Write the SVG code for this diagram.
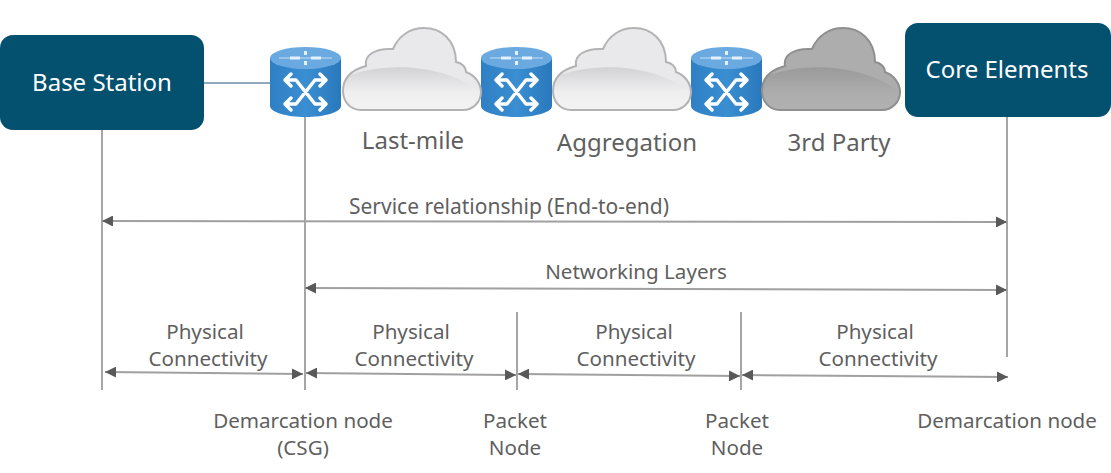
<svg xmlns="http://www.w3.org/2000/svg" width="1111" height="473" viewBox="0 0 1111 473">
<style>
.lbl{font-family:"Noto Sans","Open Sans","Liberation Sans",sans-serif;font-size:20.6px;fill:#5f5f5f;text-anchor:middle}
.big{font-size:24px}
.box{fill:#03506f}
.boxt{font-family:"Noto Sans","Open Sans","Liberation Sans",sans-serif;font-size:24px;fill:#fff;text-anchor:middle}
.ln{stroke:#a6a6a6;stroke-width:2;fill:none}
.ar{stroke:#a0a0a0;stroke-width:2;fill:none;marker-start:url(#h);marker-end:url(#h)}
.x{stroke:#fff;stroke-width:3.500;fill:none;stroke-linecap:round;stroke-linejoin:round}
</style>
<defs>
<marker id="h" viewBox="0 0 10 10" refX="10" refY="5" markerWidth="5.500" markerHeight="5.500" orient="auto-start-reverse"><path d="M0 0L10 5L0 10Z" fill="#595959"/></marker>
<linearGradient id="cyl" x1="0" x2="1" y1="0" y2="0"><stop offset="0" stop-color="#2f7fc4"/><stop offset=".5" stop-color="#3a8ed2"/><stop offset="1" stop-color="#2a78bc"/></linearGradient>
<linearGradient id="gl" x1="0" x2="0" y1="0" y2="1"><stop offset="0" stop-color="#d2d2d5"/><stop offset=".55" stop-color="#eeeeef"/><stop offset="1" stop-color="#f3f3f4"/></linearGradient>
<linearGradient id="gd" x1="0" x2="0" y1="0" y2="1"><stop offset="0" stop-color="#9a9a9a"/><stop offset=".6" stop-color="#adadad"/><stop offset="1" stop-color="#b2b2b2"/></linearGradient>
<path id="cp" d="M361 110C349 110 343 100 343 91C343 79 351 70 366 66C364 55 375 48 393 49C399 35 411 28 424 28C441 28 456 40 456 62C462 63 466 67 466 72C475 75 481 84 481 92C481 102 473 110 463 110Z"/>
<clipPath id="cc"><use href="#cp"/></clipPath>
<g id="router">
<path d="M270 58V106C270 112 286 117 305.500 117C325 117 341 112 341 106V58Z" fill="url(#cyl)"/>
<ellipse cx="305.500" cy="58" rx="35.500" ry="11" fill="#6aaae0"/>
<path d="M279 58H332" stroke="#a9cdec" stroke-width="1.500" fill="none"/>
<path d="M290 58H300M311 58H321M305.500 51V55M305.500 61V65" stroke="#e4f0fa" stroke-width="3" fill="none"/>
<path class="x" d="M285 80H296L315 104H326M285 104H296L315 80H326M291 74L285 80L291 86M291 98L285 104L291 110M320 74L326 80L320 86M320 98L326 104L320 110"/>
</g>
<g id="cloudL">
<use href="#cp" fill="#e9e9eb"/>
<path d="M343 78C380 62 440 62 481 92V111H343Z" fill="url(#gl)" clip-path="url(#cc)"/>
<use href="#cp" fill="none" stroke="#b3b3b3" stroke-width="2"/>
</g>
<g id="cloudD">
<use href="#cp" fill="#adadad"/>
<path d="M343 78C380 62 440 62 481 92V111H343Z" fill="url(#gd)" clip-path="url(#cc)"/>
<use href="#cp" fill="none" stroke="#8f8f8f" stroke-width="2"/>
</g>
</defs>
<rect width="1111" height="473" fill="#fff"/>
<g id="connectors">
<path d="M204 83H270" stroke="#8fa9bd" stroke-width="2" fill="none"/>
<path class="ln" d="M102 130V390M305 117V390M517 312V390M741 312V390M1007 117V357"/>
<path class="ar" d="M102 221L1007 222"/>
<path class="ar" d="M305 288L1007 290"/>
<path class="ar" d="M105 372L303 374"/>
<path class="ar" d="M306 373L516 375"/>
<path class="ar" d="M518 374L740 376"/>
<path class="ar" d="M742 375L1008 377"/>
</g>
<g id="base-station"><rect class="box" x="0" y="35" width="204" height="95" rx="13"/><text class="boxt" x="102" y="91">Base Station</text></g>
<g id="core-elements"><rect class="box" x="905" y="23" width="206" height="94" rx="13"/><text class="boxt" x="1007" y="78">Core Elements</text></g>
<g id="router-1"><use href="#router"/></g>
<g id="router-2"><use href="#router" x="211"/></g>
<g id="router-3"><use href="#router" x="421"/></g>
<g id="last-mile"><use href="#cloudL"/><text class="lbl big" x="413" y="149">Last-mile</text></g>
<g id="aggregation"><use href="#cloudL" x="210"/><text class="lbl big" x="627" y="151">Aggregation</text></g>
<g id="third-party"><use href="#cloudD" x="419"/><text class="lbl big" x="839" y="151">3rd Party</text></g>
<g id="labels">
<text class="lbl" x="509" y="214" style="font-size:21px">Service relationship (End-to-end)</text>
<text class="lbl" x="636" y="279">Networking Layers</text>
<text class="lbl" x="205" y="339">Physical</text><text class="lbl" x="208" y="366">Connectivity</text>
<text class="lbl" x="411" y="339">Physical</text><text class="lbl" x="414" y="366">Connectivity</text>
<text class="lbl" x="634" y="339">Physical</text><text class="lbl" x="636" y="366">Connectivity</text>
<text class="lbl" x="875" y="339">Physical</text><text class="lbl" x="878" y="366">Connectivity</text>
<text class="lbl" x="303" y="428">Demarcation node</text><text class="lbl" x="303" y="455">(CSG)</text>
<text class="lbl" x="515" y="428">Packet</text><text class="lbl" x="515" y="455">Node</text>
<text class="lbl" x="737" y="428">Packet</text><text class="lbl" x="737" y="455">Node</text>
<text class="lbl" x="1007" y="428">Demarcation node</text>
</g>
</svg>
